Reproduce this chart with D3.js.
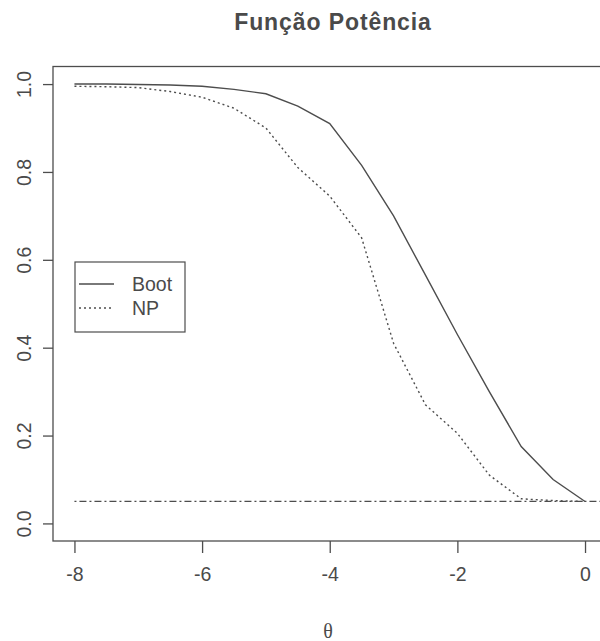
<!DOCTYPE html>
<html>
<head>
<meta charset="utf-8">
<script src="https://cdn.jsdelivr.net/npm/d3@7"></script>
<style>
  body { margin: 0; background: #fff; }
  text { font-family: "Liberation Sans", Arial, sans-serif; fill: #4a4a4a; }
</style>
</head>
<body>
<script>
var width = 600,
    height = 641;

// theta grid and estimated power values
var theta = [-8, -7.5, -7, -6.5, -6, -5.5, -5, -4.5, -4, -3.5, -3, -2.5, -2, -1.5, -1, -0.5, 0];
var boot = [1.0, 1.0, 0.999, 0.998, 0.995, 0.988, 0.978, 0.95, 0.91, 0.815, 0.70, 0.565, 0.43, 0.30, 0.175, 0.10, 0.05];
var np = [0.995, 0.994, 0.992, 0.983, 0.97, 0.945, 0.90, 0.81, 0.745, 0.65, 0.41, 0.27, 0.205, 0.11, 0.056, 0.052, 0.05];
var alphaLevel = [-8, 0.4];
var alphaValue = 0.05;

var xTicks = [-8, -6, -4, -2, 0];
var yTicks = [0, 0.2, 0.4, 0.6, 0.8, 1.0];
var legendLabels = ["Boot", "NP"];

var ink = "#4d4d4d";

var x = d3.scaleLinear().domain([-8.336, 0.736]).range([53, 632]);
var y = d3.scaleLinear().domain([-0.04, 1.04]).range([541, 66.5]);

var svg = d3.select("body").append("svg")
    .attr("width", width)
    .attr("height", height);

// title
svg.append("text")
    .attr("x", 333)
    .attr("y", 30)
    .attr("text-anchor", "middle")
    .style("font-size", "23px")
    .style("font-weight", "bold")
    .style("letter-spacing", "0.9px")
    .text("Função Potência");

// plot box
svg.append("rect")
    .attr("x", x.range()[0])
    .attr("y", y.range()[1])
    .attr("width", x.range()[1] - x.range()[0])
    .attr("height", y.range()[0] - y.range()[1])
    .attr("fill", "none")
    .attr("stroke", ink)
    .attr("stroke-width", 1.3);

// x axis
var xAxis = svg.append("g")
    .attr("transform", "translate(0," + y.range()[0] + ")")
    .call(d3.axisBottom(x).tickValues(xTicks).tickSize(12).tickPadding(14)
        .tickFormat(function(d) { return d; }));
xAxis.select(".domain").remove();
xAxis.selectAll("line").attr("stroke", ink).attr("stroke-width", 1.3);
xAxis.selectAll("text")
    .attr("fill", ink)
    .style("font-size", "19.5px")
    .style("font-family", "Liberation Sans, Arial, sans-serif");

// y axis
var yAxis = svg.append("g")
    .attr("transform", "translate(" + x.range()[0] + ",0)")
    .call(d3.axisLeft(y).tickValues(yTicks).tickSize(10).tickFormat(d3.format(".1f")));
yAxis.select(".domain").remove();
yAxis.selectAll("line").attr("stroke", ink).attr("stroke-width", 1.3);
yAxis.selectAll("text")
    .attr("fill", ink)
    .attr("x", null)
    .attr("dy", null)
    .attr("text-anchor", "middle")
    .attr("transform", "translate(-23,0) rotate(-90) translate(0,-6)")
    .attr("dominant-baseline", "central")
    .style("font-size", "19.5px")
    .style("font-family", "Liberation Sans, Arial, sans-serif");

// x label
svg.append("text")
    .attr("x", 328)
    .attr("y", 638)
    .attr("text-anchor", "middle")
    .style("font-family", "'Liberation Serif', 'DejaVu Serif', serif")
    .style("font-size", "20px")
    .text("θ");

var line = d3.line()
    .x(function(d) { return x(d[0]); })
    .y(function(d) { return y(d[1]); });

// alpha reference (dot-dash)
svg.append("path")
    .attr("d", line(alphaLevel.map(function(t) { return [t, alphaValue]; })))
    .attr("fill", "none")
    .attr("stroke", ink)
    .attr("stroke-width", 1.2)
    .attr("stroke-dasharray", "2,3,7,3");

svg.append("path")
    .attr("d", line(d3.zip(theta, np)))
    .attr("fill", "none")
    .attr("stroke", ink)
    .attr("stroke-width", 1.4)
    .attr("stroke-dasharray", "2,3");

svg.append("path")
    .attr("d", line(d3.zip(theta, boot)))
    .attr("fill", "none")
    .attr("stroke", ink)
    .attr("stroke-width", 1.4);

// legend
var legend = svg.append("g").attr("transform", "translate(75,262)");
legend.append("rect")
    .attr("width", 110)
    .attr("height", 70)
    .attr("fill", "#fff")
    .attr("stroke", ink)
    .attr("stroke-width", 1.2);

var item = legend.selectAll("g.item")
    .data(legendLabels)
    .enter().append("g")
    .attr("class", "item")
    .attr("transform", function(d, i) { return "translate(0," + (22 + i * 24) + ")"; });

item.append("line")
    .attr("x1", 4)
    .attr("x2", 39)
    .attr("stroke", ink)
    .attr("stroke-width", 1.3)
    .attr("stroke-dasharray", function(d, i) { return i ? "2,3" : null; });

item.append("text")
    .attr("x", 57)
    .attr("dy", "0.35em")
    .style("font-size", "19.5px")
    .text(function(d) { return d; });
</script>
</body>
</html>
